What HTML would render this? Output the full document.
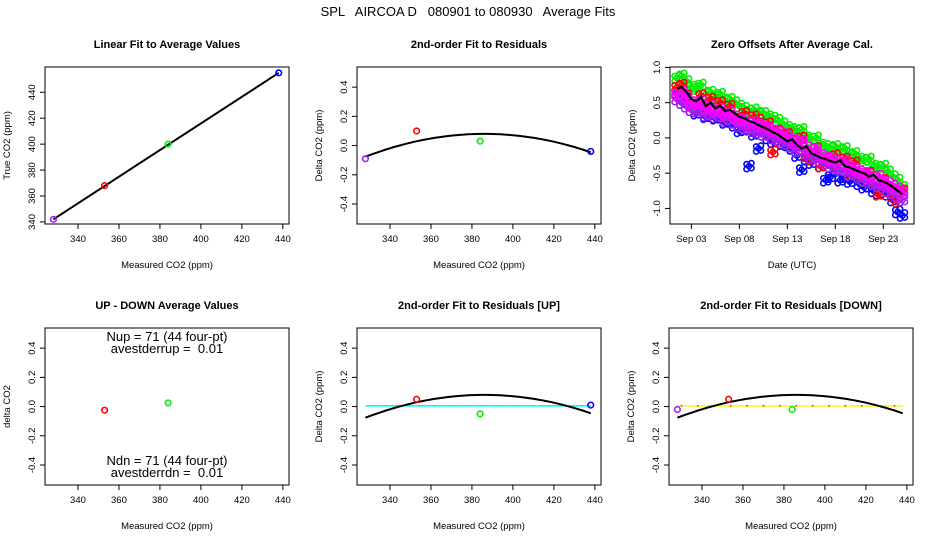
<!DOCTYPE html>
<html><head><meta charset="utf-8"><style>
html,body{margin:0;padding:0;background:#fff}
svg{display:block;font-family:"Liberation Sans",sans-serif}
</style></head><body>
<svg id="s" width="936" height="540" viewBox="0 0 936 540">
<text x="468" y="16" text-anchor="middle" font-size="13" style="white-space:pre" xml:space="preserve">SPL   AIRCOA D   080901 to 080930   Average Fits</text>
</svg>
<script>
// Panel 1: linear fit
const p1X = [328, 353, 384, 438];
const p1Y = [342, 368, 400, 455];
const p1Colors = ['#a020f0', '#ff0000', '#00ee00', '#0000ff'];
// Panel 2: residuals
const p2Y = [-0.09, 0.10, 0.03, -0.04];
// Quadratic fit coefficients (vertex form)
const fitPeak = 0.08, fitCenter = 386, fitCurv = -0.0000465;
// Panel 4: up-down
const p4X = [353, 384];
const p4Y = [-0.025, 0.025];
// Panel 5: UP residuals
const p5X = [353, 384, 438];
const p5Y = [0.05, -0.05, 0.01];
// Panel 6: DOWN residuals
const p6X = [328, 353, 384];
const p6Y = [-0.02, 0.05, -0.02];
// Panel 3: zero offsets by date (day of Sep)
const days = [1.5,2,2.5,3,3.5,4,4.5,5,5.5,6,6.5,7,7.5,8,8.5,9,9.5,10,10.5,11,11.5,12,12.5,13,13.5,14,14.5,15,15.5,16,16.5,17,17.5,18,18.5,19,19.5,20,20.5,21,21.5,22,22.5,23,23.5,24,24.5,25];
const meanOff = [0.70,0.72,0.65,0.55,0.52,0.58,0.45,0.50,0.42,0.46,0.38,0.40,0.35,0.30,0.28,0.24,0.22,0.18,0.15,0.12,0.08,0.05,0.0,-0.05,-0.02,-0.10,-0.15,-0.12,-0.22,-0.25,-0.28,-0.30,-0.33,-0.35,-0.32,-0.40,-0.42,-0.45,-0.48,-0.50,-0.55,-0.52,-0.60,-0.62,-0.65,-0.70,-0.75,-0.80];
const greenOff = [0.85,0.88,0.80,0.72,0.70,0.75,0.62,0.65,0.58,0.62,0.52,0.55,0.50,0.45,0.42,0.38,0.40,0.35,0.35,0.30,0.28,0.25,0.20,0.15,0.12,0.10,0.12,0.0,-0.02,0.0,-0.10,-0.12,-0.15,-0.12,-0.18,-0.15,-0.25,-0.22,-0.30,-0.32,-0.30,-0.40,-0.42,-0.40,-0.48,-0.55,-0.60,-0.70];
const redOff = [0.72,0.75,0.60,0.50,0.48,0.60,0.40,0.55,0.38,0.50,0.35,0.45,0.30,0.28,0.35,0.20,0.30,0.25,0.15,0.20,-0.20,0.10,0.02,0.05,-0.05,-0.10,0.0,-0.25,-0.30,-0.15,-0.40,-0.30,-0.35,-0.25,-0.45,-0.30,-0.50,-0.35,-0.55,-0.60,-0.50,-0.65,-0.80,-0.60,-0.75,-0.82,-0.90,-0.75];
const blueOff = [0.65,0.60,0.55,0.40,0.35,0.45,0.30,0.35,0.28,0.30,0.22,0.25,0.18,0.10,0.12,-0.40,0.05,-0.15,0.05,0.00,-0.05,0.02,-0.08,-0.10,-0.15,-0.25,-0.45,-0.30,-0.35,-0.28,-0.40,-0.60,-0.55,-0.45,-0.60,-0.55,-0.62,-0.55,-0.65,-0.70,-0.68,-0.75,-0.78,-0.72,-0.80,-0.88,-1.05,-1.10];
const purpleA = [0.62,0.65,0.58,0.50,0.48,0.52,0.42,0.45,0.38,0.40,0.34,0.36,0.30,0.26,0.25,0.20,0.22,0.18,0.16,0.15,0.10,0.08,0.05,0.02,-0.02,-0.08,-0.05,-0.14,-0.18,-0.16,-0.25,-0.28,-0.30,-0.32,-0.36,-0.34,-0.42,-0.44,-0.48,-0.50,-0.52,-0.56,-0.54,-0.62,-0.64,-0.68,-0.72,-0.78];
const purpleB = [0.55,0.50,0.45,0.40,0.38,0.42,0.32,0.35,0.30,0.32,0.25,0.28,0.22,0.18,0.15,0.12,0.10,0.08,0.05,0.05,0.0,-0.02,-0.05,-0.08,-0.12,-0.18,-0.15,-0.22,-0.28,-0.25,-0.32,-0.36,-0.40,-0.42,-0.45,-0.45,-0.52,-0.50,-0.56,-0.60,-0.62,-0.65,-0.68,-0.70,-0.74,-0.78,-0.82,-0.88];
const co2Ticks = [340, 360, 380, 400, 420, 440];
const p1YTicks = [340, 360, 380, 400, 420, 440];
const resTicks = [0.4, 0.2, 0.0, -0.2, -0.4];
const resTickLabels = ['0.4', '0.2', '0.0', '-0.2', '-0.4'];
const offTicks = [1.0, 0.5, 0.0, -0.5, -1.0];
const offTickLabels = ['1.0', '0.5', '0.0', '-0.5', '-1.0'];
const dateTicks = [3, 8, 13, 18, 23];
const dateTickLabels = ['Sep 03', 'Sep 08', 'Sep 13', 'Sep 18', 'Sep 23'];

const NS = 'http://www.w3.org/2000/svg';
const svg = document.getElementById('s');
function mk(tag, attrs, parent, txt) {
  const e = document.createElementNS(NS, tag);
  for (const k in attrs) e.setAttribute(k, attrs[k]);
  if (txt !== undefined) e.textContent = txt;
  (parent || svg).appendChild(e);
  return e;
}
const W = 244, H = 157;
function panel(name, left, top, xmin, xmax, ymin, ymax, title, xlab, ylab) {
  const g = mk('g', {});
  
  
  const P = {g, left, top,
    sx: v => left + (v - xmin) / (xmax - xmin) * W,
    sy: v => top + H - (v - ymin) / (ymax - ymin) * H};
  const b = mk('rect', {x: left, y: top, width: W, height: H, fill: 'none', stroke: '#000', 'stroke-width': 1}, g);
  
  
  const t = mk('text', {x: left + W / 2, y: top - 19, 'text-anchor': 'middle', 'font-size': 11, 'font-weight': 'bold'}, g, title);
  
  
  const xl = mk('text', {x: left + W / 2, y: top + H + 44, 'text-anchor': 'middle', 'font-size': 9.5}, g, xlab);
  
  
  const yx = left - 35, yy = top + H / 2;
  const yl = mk('text', {x: yx, y: yy, 'text-anchor': 'middle', 'font-size': 9.5, transform: `rotate(-90 ${yx} ${yy})`}, g, ylab);
  
  
  return P;
}
function xAxis(P, ticks, labels) {
  const y0 = P.top + H;
  const xs = ticks.map(P.sx);
  mk('line', {x1: xs[0], x2: xs[xs.length - 1], y1: y0, y2: y0, stroke: '#000'}, P.g);
  ticks.forEach((v, i) => {
    const x = P.sx(v);
    mk('line', {x1: x, x2: x, y1: y0, y2: y0 + 5, stroke: '#000'}, P.g);
    const t = mk('text', {x, y: y0 + 18, 'text-anchor': 'middle', 'font-size': 9.5}, P.g, labels[i]);
    
    
  });
}
function yAxis(P, ticks, labels) {
  const x0 = P.left;
  mk('line', {x1: x0, x2: x0, y1: P.sy(ticks[0]), y2: P.sy(ticks[ticks.length - 1]), stroke: '#000'}, P.g);
  ticks.forEach((v, i) => {
    const y = P.sy(v);
    mk('line', {x1: x0 - 5, x2: x0, y1: y, y2: y, stroke: '#000'}, P.g);
    const tx = x0 - 10;
    const t = mk('text', {x: tx, y, 'text-anchor': 'middle', 'font-size': 9.5, transform: `rotate(-90 ${tx} ${y})`}, P.g, labels[i]);
    
    
  });
}
function pt(P, x, y, col, r, name, dx, dy) {
  const c = mk('circle', {cx: P.sx(x) + (dx || 0), cy: P.sy(y) + (dy || 0), r: r || 2.8, fill: 'none', stroke: col, 'stroke-width': 1.6}, P.g);
  
  
}
function fitCurve(P, name) {
  let d = '';
  for (let x = 328; x <= 438; x += 2) {
    const y = fitPeak + fitCurv * (x - fitCenter) * (x - fitCenter);
    d += (d ? 'L' : 'M') + P.sx(x).toFixed(1) + ',' + P.sy(y).toFixed(1);
  }
  const p = mk('path', {d, fill: 'none', stroke: '#000', 'stroke-width': 2}, P.g);
  
  
}
function zeroLine(P, col, dotCol, name) {
  const l = mk('line', {x1: P.sx(328), x2: P.sx(438), y1: P.sy(0.005), y2: P.sy(0.005), stroke: col, 'stroke-width': 1.6}, P.g);
  
  
  for (let x = 330; x <= 438; x += 8) mk('rect', {x: P.sx(x) - 0.7, y: P.sy(0.005) - 0.7, width: 1.4, height: 1.4, fill: dotCol}, P.g);
}
const co2Labels = co2Ticks.map(String);
const XMIN = 323.9, XMAX = 443;

// Panel 1
const P1 = panel('linear-fit-panel', 45, 67, XMIN, XMAX, 338.4, 459.5, 'Linear Fit to Average Values', 'Measured CO2 (ppm)', 'True CO2 (ppm)');
xAxis(P1, co2Ticks, co2Labels); yAxis(P1, p1YTicks, p1YTicks.map(String));
const fl = mk('line', {x1: P1.sx(p1X[0]), y1: P1.sy(p1Y[0]), x2: P1.sx(p1X[3]), y2: P1.sy(p1Y[3]), stroke: '#000', 'stroke-width': 2}, P1.g);


p1X.forEach((x, i) => pt(P1, x, p1Y[i], p1Colors[i]));

// Panel 2
const P2 = panel('residuals-fit-panel', 357, 67, XMIN, XMAX, -0.537, 0.538, '2nd-order Fit to Residuals', 'Measured CO2 (ppm)', 'Delta CO2 (ppm)');
xAxis(P2, co2Ticks, co2Labels); yAxis(P2, resTicks, resTickLabels);
fitCurve(P2, 'quadratic-fit-curve');
p1X.forEach((x, i) => pt(P2, x, p2Y[i], p1Colors[i]));

// Panel 3
const P3 = panel('zero-offsets-panel', 670, 67, 0.77, 26.2, -1.221, 1.006, 'Zero Offsets After Average Cal.', 'Date (UTC)', 'Delta CO2 (ppm)');
xAxis(P3, dateTicks, dateTickLabels); yAxis(P3, offTicks, offTickLabels);
// dense clouds: each reading drawn as a small cluster (sub-hour readings)
const cluster = [[0, 0], [2.4, 2], [-2.4, -2], [2.4, -3], [-2.4, 3]];
[[greenOff, '#00ee00', 'green-offset'], [blueOff, '#0000ff', 'blue-offset'], [redOff, '#ff0000', 'red-offset'], [purpleB, '#a020f0', 'purple-offset'], [purpleA, '#ff00ff', 'purple-offset']].forEach(s => {
  days.forEach((d, i) => cluster.forEach(o => pt(P3, d, s[0][i], s[1], 2.6, s[2], o[0], o[1])));
});
let md = '';
days.forEach((d, i) => { md += (i ? 'L' : 'M') + P3.sx(d).toFixed(1) + ',' + P3.sy(meanOff[i]).toFixed(1); });
const ml = mk('path', {d: md, fill: 'none', stroke: '#000', 'stroke-width': 2.2}, P3.g);



// Panel 4
const P4 = panel('up-down-panel', 45, 328, XMIN, XMAX, -0.537, 0.538, 'UP - DOWN Average Values', 'Measured CO2 (ppm)', 'delta CO2');
xAxis(P4, co2Ticks, co2Labels); yAxis(P4, resTicks, resTickLabels);
p4X.forEach((x, i) => pt(P4, x, p4Y[i], i ? '#00ee00' : '#ff0000'));
[['Nup = 71 (44 four-pt)', 341], ['avestderrup =  0.01', 353], ['Ndn = 71 (44 four-pt)', 465], ['avestderrdn =  0.01', 477]].forEach(a => {
  const t = mk('text', {x: 167, y: a[1], 'text-anchor': 'middle', 'font-size': 13, 'xml:space': 'preserve', style: 'white-space:pre'}, P4.g, a[0]);
  
  
});

// Panel 5
const P5 = panel('residuals-up-panel', 357, 328, XMIN, XMAX, -0.537, 0.538, '2nd-order Fit to Residuals [UP]', 'Measured CO2 (ppm)', 'Delta CO2 (ppm)');
xAxis(P5, co2Ticks, co2Labels); yAxis(P5, resTicks, resTickLabels);
zeroLine(P5, '#00ffff', '#33ccff', 'zero-reference-line');
fitCurve(P5, 'quadratic-fit-curve');
p5X.forEach((x, i) => pt(P5, x, p5Y[i], ['#ff0000', '#00ee00', '#0000ff'][i]));

// Panel 6
const P6 = panel('residuals-down-panel', 669, 328, XMIN, XMAX, -0.537, 0.538, '2nd-order Fit to Residuals [DOWN]', 'Measured CO2 (ppm)', 'Delta CO2 (ppm)');
xAxis(P6, co2Ticks, co2Labels); yAxis(P6, resTicks, resTickLabels);
zeroLine(P6, '#ffff00', '#ff0000', 'zero-reference-line');
fitCurve(P6, 'quadratic-fit-curve');
p6X.forEach((x, i) => pt(P6, x, p6Y[i], ['#a020f0', '#ff0000', '#00ee00'][i]));
</script>
</body></html>
